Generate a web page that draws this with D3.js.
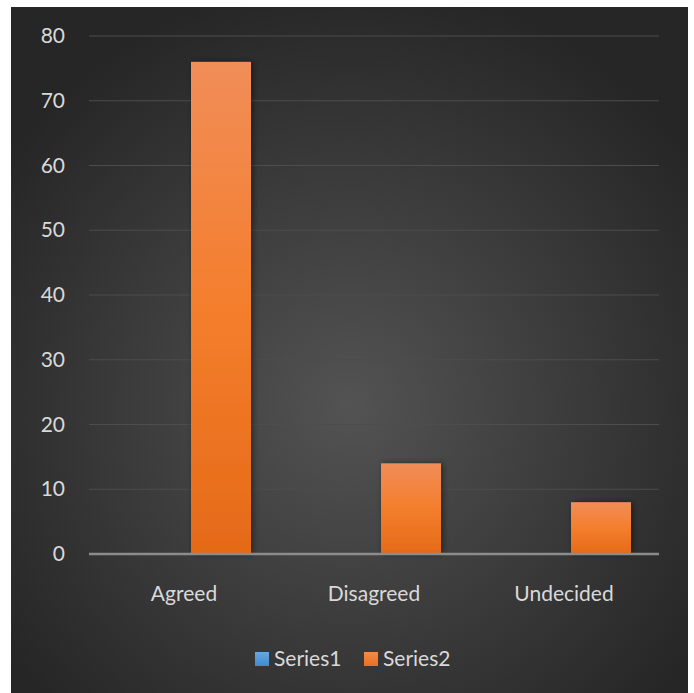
<!DOCTYPE html>
<html><head><meta charset="utf-8">
<script src="https://cdn.jsdelivr.net/npm/d3@7"></script>
<style>html,body{margin:0;padding:0;background:#fff;}svg{display:block;}</style>
</head><body>
<script>
const categories = ["Agreed", "Disagreed", "Undecided"];
const seriesNames = ["Series1", "Series2"];
const series1 = [0, 0, 0];
const series2 = [76, 14, 8];
const yTicks = [0, 10, 20, 30, 40, 50, 60, 70, 80];

(function () {
const W = 694, H = 693;
const svg = d3.select("body").append("svg").attr("width", W).attr("height", H);
const defs = svg.append("defs");
const rg = defs.append("radialGradient").attr("id", "bg").attr("cx", "50%").attr("cy", "58%").attr("r", "62%");
rg.append("stop").attr("offset", "0%").attr("stop-color", "#535353");
rg.append("stop").attr("offset", "100%").attr("stop-color", "#262626");
const og = defs.append("linearGradient").attr("id", "og").attr("x1", 0).attr("y1", 0).attr("x2", 0).attr("y2", 1);
og.append("stop").attr("offset", "0%").attr("stop-color", "#f18d58");
og.append("stop").attr("offset", "50%").attr("stop-color", "#f47e2c");
og.append("stop").attr("offset", "100%").attr("stop-color", "#e56a18");
const bgr = defs.append("linearGradient").attr("id", "bgrad").attr("x1", 0).attr("y1", 0).attr("x2", 0).attr("y2", 1);
bgr.append("stop").attr("offset", "0%").attr("stop-color", "#6aa6dc");
bgr.append("stop").attr("offset", "100%").attr("stop-color", "#3f8ad0");
const og2 = defs.append("linearGradient").attr("id", "og2").attr("x1", 0).attr("y1", 0).attr("x2", 0).attr("y2", 1);
og2.append("stop").attr("offset", "0%").attr("stop-color", "#f48a48");
og2.append("stop").attr("offset", "100%").attr("stop-color", "#ea7020");
const sh = defs.append("filter").attr("id", "sh").attr("x", "-30%").attr("y", "-10%").attr("width", "160%").attr("height", "120%");
sh.append("feDropShadow").attr("dx", 2).attr("dy", 0).attr("stdDeviation", 3).attr("flood-color", "#000").attr("flood-opacity", 0.45);

svg.append("rect").attr("x", 11).attr("y", 7).attr("width", 677).attr("height", 686).attr("fill", "url(#bg)");

const pl = 89, pr = 659, pt = 36, pb = 554;
const y = d3.scaleLinear().domain([0, 80]).range([pb, pt]);
const x0 = d3.scaleBand().domain(categories).range([pl, pr]).padding(0);
const x1 = d3.scaleBand().domain(seriesNames).range([42, 162]).padding(0);

const font = "Lato, 'Open Sans', sans-serif";
const txt = "#d9d9d9";

svg.append("g").selectAll("line").data(yTicks.filter(d => d > 0)).join("line")
  .attr("x1", pl).attr("x2", pr).attr("y1", d => y(d)).attr("y2", d => y(d))
  .attr("stroke", "#4d4d4d").attr("stroke-width", 1.2);

const yAxis = d3.axisLeft(y).tickValues(yTicks).tickSize(0).tickPadding(0);
const ga = svg.append("g").attr("transform", `translate(65,0)`).call(yAxis);
ga.select(".domain").remove();
ga.selectAll("text").attr("fill", txt).style("font-family", font).style("font-size", "21px");

const data = categories.map((c, i) => ({cat: c, vals: [{s: "Series1", v: series1[i]}, {s: "Series2", v: series2[i]}]}));
const grp = svg.append("g").selectAll("g").data(data).join("g")
  .attr("transform", d => `translate(${x0(d.cat)},0)`);
grp.selectAll("rect").data(d => d.vals.filter(e => e.v > 0)).join("rect")
  .attr("x", d => x1(d.s)).attr("width", x1.bandwidth())
  .attr("y", d => y(d.v)).attr("height", d => y(0) - y(d.v))
  .attr("fill", d => d.s === "Series2" ? "url(#og)" : "url(#bgrad)")
  .attr("filter", "url(#sh)");

const xAxis = d3.axisBottom(x0).tickSize(0).tickPadding(0);
const gx = svg.append("g").attr("transform", `translate(0,${pb})`).call(xAxis);
gx.select(".domain").attr("stroke", "#8c8c8c").attr("stroke-width", 2.5).attr("d", `M${pl},0H${pr}`);
gx.selectAll("text").attr("fill", txt).style("font-family", font).style("font-size", "21px")
  .attr("dy", null).attr("y", 47);

const leg = svg.append("g");
const legX = [255, 364];
seriesNames.forEach((s, i) => {
  leg.append("rect").attr("x", legX[i]).attr("y", 652).attr("width", 14).attr("height", 14)
    .attr("fill", i === 0 ? "url(#bgrad)" : "url(#og2)");
  leg.append("text").attr("x", legX[i] + 19).attr("y", 666).text(s)
    .attr("fill", txt).style("font-family", font).style("font-size", "21px");
});
})();
</script>
</body></html>
